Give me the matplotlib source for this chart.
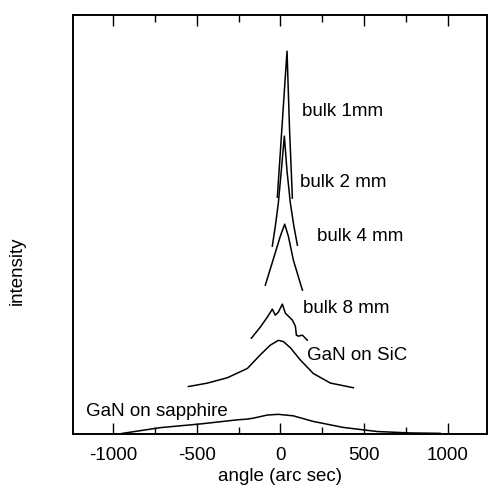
import numpy as np
import matplotlib.pyplot as plt
from matplotlib.ticker import MultipleLocator

plt.rcParams['font.family'] = ['Liberation Sans', 'DejaVu Sans']

# rocking curves, angle in arc sec, intensity in arbitrary (offset) units
bulk1_x = [-18, 0, 20, 40, 55, 72]
bulk1_y = [237, 282, 333, 383, 305, 236]

bulk2_x = [-48, -30, -12, 5, 24, 40, 60, 80, 102]
bulk2_y = [188, 208, 231, 262, 298, 263, 231, 209, 189]

bulk4_x = [-90, -42, 0, 26, 48, 78, 132]
bulk4_y = [149, 175, 198, 210, 198, 174, 144]

bulk8_x = [-173, -120, -78, -48, -30, -12, 12, 30, 48, 72, 90, 96, 108, 132, 161]
bulk8_y = [96, 107, 117, 125, 119, 122, 130, 121, 118, 114, 108, 99, 98, 99, 94]

sic_x = [-550, -437, -317, -197, -120, -60, -12, 18, 60, 120, 197, 299, 437]
sic_y = [47.6, 51.0, 56.4, 65.7, 79.3, 89.0, 93.8, 92.6, 86.4, 74.1, 60.7, 51.1, 46.4]

sapph_x = [-947, -718, -478, -257, -200, -161, -78, -12, 78, 197, 377, 580, 778, 957]
sapph_y = [0.7, 6.5, 10.2, 14.3, 15.0, 16.0, 19.1, 19.8, 18.3, 12.7, 6.7, 2.6, 1.2, 0.8]

curves = [
    (bulk1_x, bulk1_y, "bulk 1mm", (132, 323)),
    (bulk2_x, bulk2_y, "bulk 2 mm", (120, 252)),
    (bulk4_x, bulk4_y, "bulk 4 mm", (222, 198)),
    (bulk8_x, bulk8_y, "bulk 8 mm", (138, 126)),
    (sic_x, sic_y, "GaN on SiC", (162, 79)),
    (sapph_x, sapph_y, "GaN on sapphire", (-1160, 23)),
]

fig = plt.figure(figsize=(4.88, 4.90), dpi=100)
ax = fig.add_axes([0.1496, 0.114, 0.848, 0.855])

for xs, ys, name, (tx, ty) in curves:
    ax.plot(xs, ys, color="k", lw=1.1)
    ax.text(tx, ty, name, fontsize=13.5, va="center", ha="left")

ax.set_xlim(-1240, 1235)
ax.set_ylim(0, 419)
ax.xaxis.set_major_locator(MultipleLocator(500))
ax.xaxis.set_minor_locator(MultipleLocator(250))
ax.set_yticks([])
ax.tick_params(axis="x", which="both", direction="in", top=True,
               labelsize=13.5, pad=9, width=1.0)
ax.tick_params(axis="x", which="major", length=8)
ax.tick_params(axis="x", which="minor", length=5)
for s in ax.spines.values():
    s.set_linewidth(1.4)

ax.set_xticklabels([str(int(v)) for v in ax.get_xticks()])
ax.set_xlabel("angle (arc sec)", fontsize=13.5, labelpad=3)
ax.set_ylabel("intensity", fontsize=13.5)
ax.yaxis.set_label_coords(-0.115, 0.39)

fig.savefig("out.png", dpi=100)
